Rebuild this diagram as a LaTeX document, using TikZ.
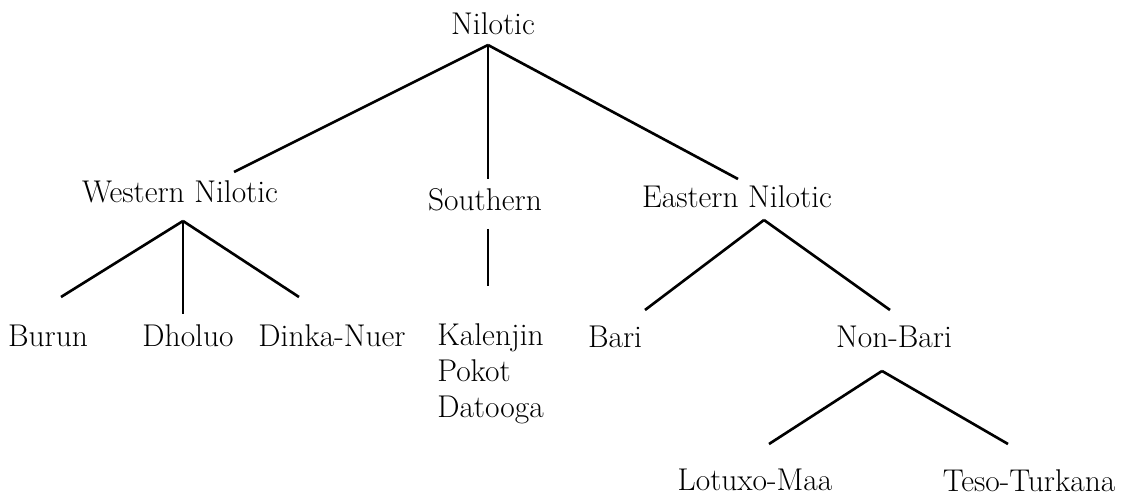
\documentclass[tikz,border=0pt]{standalone}
\usepackage{tikz}
\usetikzlibrary{positioning, calc}

\begin{document}
\begin{tikzpicture}[x=0.02cm, y=-0.02cm, line width=1.5pt, every node/.style={font=\fontsize{17.9}{21}\selectfont, inner sep=0pt, anchor=base}]
    \useasboundingbox (0, 0) rectangle (1121, 496);

    % Nodes
    \node (nil) at (493, 35) {Nilotic};
    \node (wes) at (180, 203) {Western Nilotic};
    \node (sou) at (485, 211) {Southern};
    \node (eas) at (737, 208) {Eastern Nilotic};
    \node (bur) at (48, 346) {Burun};
    \node (dho) at (188, 346) {Dholuo};
    \node (din) at (332, 346) {Dinka-Nuer};
    \node[anchor=base west] (kal) at (436, 345) {Kalenjin};
    \node[anchor=base west] (pok) at (436, 381) {Pokot};
    \node[anchor=base west] (dat) at (436, 417) {Datooga};
    \node (bar) at (615, 347) {Bari};
    \node (nob) at (894, 347) {Non-Bari};
    \node (lot) at (755, 490) {Lotuxo-Maa};
    \node (tes) at (1029, 491) {Teso-Turkana};

    % Branch points
    \coordinate (nilR) at (488, 45);
    \coordinate (wesT) at (234, 172);
    \coordinate (souT) at (488, 179);
    \coordinate (easT) at (738, 179);
    \coordinate (wesR) at (183, 221);
    \coordinate (burT) at (61, 297);
    \coordinate (dhoT) at (183, 314);
    \coordinate (dinT) at (299, 297);
    \coordinate (souR) at (488, 229);
    \coordinate (kalT) at (488, 286);
    \coordinate (easR) at (764, 220);
    \coordinate (barT) at (645, 310);
    \coordinate (nobT) at (890, 310);
    \coordinate (nobR) at (882, 371);
    \coordinate (lotT) at (769, 444);
    \coordinate (tesT) at (1008, 444);

    % Edges
    \draw (nilR) -- (wesT);
    \draw (nilR) -- (souT);
    \draw (nilR) -- (easT);
    \draw (wesR) -- (burT);
    \draw (wesR) -- (dhoT);
    \draw (wesR) -- (dinT);
    \draw (souR) -- (kalT);
    \draw (easR) -- (barT);
    \draw (easR) -- (nobT);
    \draw (nobR) -- (lotT);
    \draw (nobR) -- (tesT);
\end{tikzpicture}
\end{document}
